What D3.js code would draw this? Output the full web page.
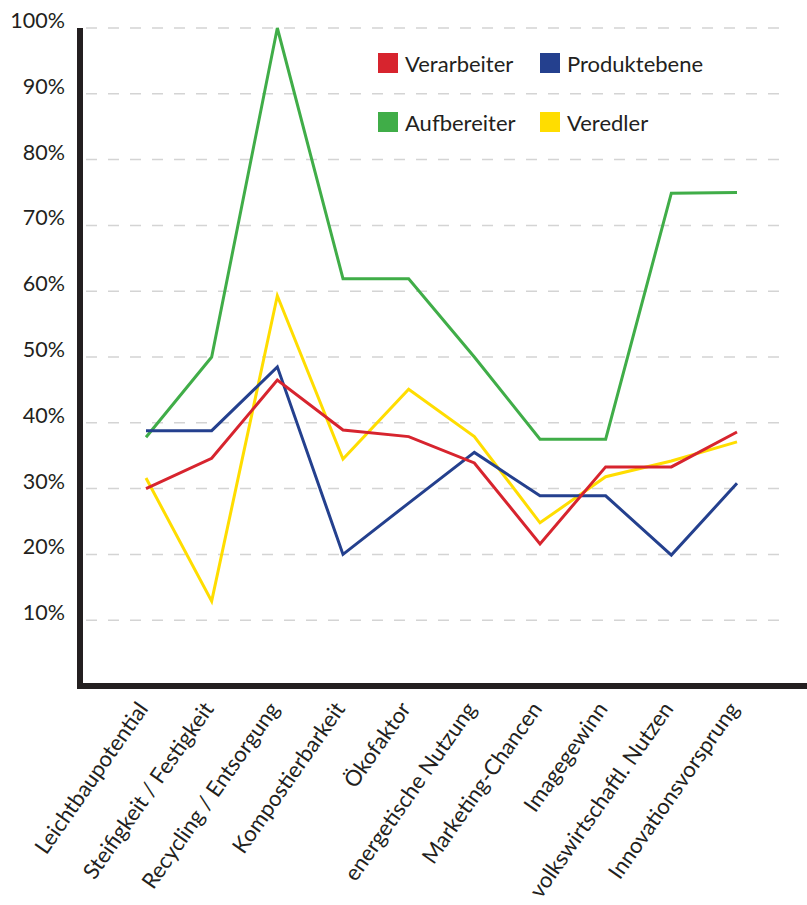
<!DOCTYPE html>
<html>
<head>
<meta charset="utf-8">
<script src="https://cdn.jsdelivr.net/npm/d3@7"></script>
<style>
  body { margin: 0; background: #fff; }
  text { font-family: Lato, "Open Sans", sans-serif; fill: #231f20; }
</style>
</head>
<body>
<script>
var categories = ["Leichtbaupotential", "Steifigkeit / Festigkeit", "Recycling / Entsorgung",
  "Kompostierbarkeit", "Ökofaktor", "energetische Nutzung", "Marketing-Chancen",
  "Imagegewinn", "volkswirtschaftl. Nutzen", "Innovationsvorsprung"];

var verarbeiter  = [30, 34.6, 46.5, 38.9, 37.9, 33.9, 21.6, 33.3, 33.3, 38.6];
var produktebene = [38.8, 38.8, 48.5, 20, 27.8, 35.5, 28.9, 28.9, 19.9, 30.8];
var aufbereiter  = [37.8, 50, 100, 61.9, 61.9, 50, 37.5, 37.5, 74.9, 75];
var veredler     = [31.6, 12.9, 59.3, 34.5, 45.1, 37.9, 24.8, 31.8, 34.2, 37.1];

var yTicks = [10, 20, 30, 40, 50, 60, 70, 80, 90, 100];

var series = [
  {name: "Aufbereiter", values: aufbereiter, color: "#40ad48"},
  {name: "Veredler", values: veredler, color: "#ffdd00"},
  {name: "Produktebene", values: produktebene, color: "#24408e"},
  {name: "Verarbeiter", values: verarbeiter, color: "#d7242e"}
];

var legendItems = [
  {name: "Verarbeiter", color: "#d7242e", col: 0, row: 0},
  {name: "Produktebene", color: "#24408e", col: 1, row: 0},
  {name: "Aufbereiter", color: "#40ad48", col: 0, row: 1},
  {name: "Veredler", color: "#ffdd00", col: 1, row: 1}
];

var width = 807, height = 905;
var svg = d3.select("body").append("svg")
  .attr("width", width)
  .attr("height", height);

var yScale = d3.scaleLinear().domain([0, 100]).range([686, 28]);
var xScale = d3.scalePoint().domain(categories).range([146, 737]);

// gridlines
svg.append("g")
  .selectAll("line")
  .data(yTicks)
  .enter()
  .append("line")
  .attr("x1", 86)
  .attr("x2", 790)
  .attr("y1", function(d){ return yScale(d); })
  .attr("y2", function(d){ return yScale(d); })
  .attr("stroke", "#d4d4d4")
  .attr("stroke-width", 1.5)
  .attr("stroke-dasharray", "11,11");

// y tick labels
svg.append("g")
  .selectAll("text")
  .data(yTicks)
  .enter()
  .append("text")
  .attr("x", 65)
  .attr("y", function(d){ return yScale(d); })
  .attr("text-anchor", "end")
  .attr("font-size", 21.5)
  .text(function(d){ return d + "%"; });

// lines
var line = d3.line()
  .x(function(d, i){ return xScale(categories[i]); })
  .y(function(d){ return yScale(d); });

svg.append("g")
  .selectAll("path")
  .data(series)
  .enter()
  .append("path")
  .attr("d", function(d){ return line(d.values); })
  .attr("fill", "none")
  .attr("stroke", function(d){ return d.color; })
  .attr("stroke-width", 3);

// axes
svg.append("line")
  .attr("x1", 80).attr("x2", 80)
  .attr("y1", yScale(100)).attr("y2", 689)
  .attr("stroke", "#231f20").attr("stroke-width", 6);
svg.append("line")
  .attr("x1", 77).attr("x2", width)
  .attr("y1", 686).attr("y2", 686)
  .attr("stroke", "#231f20").attr("stroke-width", 6);

// category labels
svg.append("g")
  .selectAll("text")
  .data(categories)
  .enter()
  .append("text")
  .attr("transform", function(d){ return "translate(" + (xScale(d) + 3) + ",709) rotate(-55)"; })
  .attr("text-anchor", "end")
  .attr("font-size", 22)
  .text(function(d){ return d; });

// legend
var legend = svg.append("g")
  .selectAll("g")
  .data(legendItems)
  .enter()
  .append("g")
  .attr("transform", function(d){ return "translate(" + (378 + d.col * 162) + "," + (53 + d.row * 59) + ")"; });

legend.append("rect")
  .attr("width", 20).attr("height", 20)
  .attr("fill", function(d){ return d.color; });

legend.append("text")
  .attr("x", 27).attr("y", 19)
  .attr("font-size", 22)
  .text(function(d){ return d.name; });
</script>
</body>
</html>
